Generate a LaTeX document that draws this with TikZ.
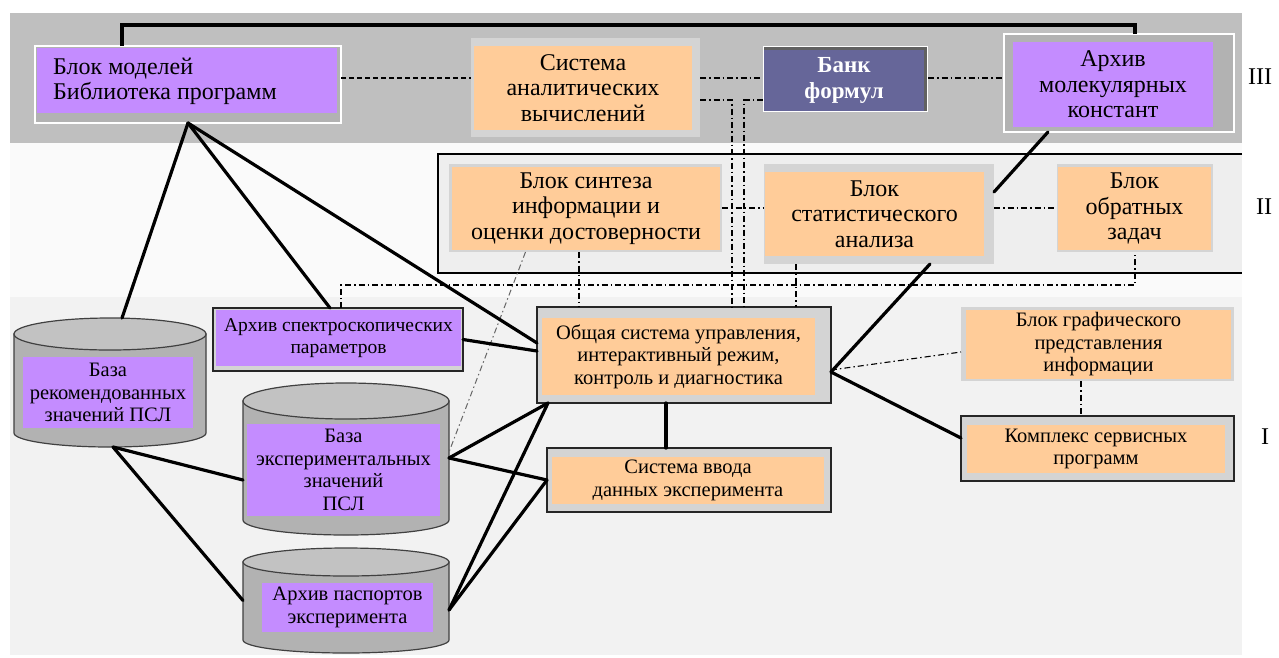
\documentclass[tikz,border=0pt]{standalone}
\usepackage{fontspec}
\setmainfont{Liberation Serif}
\usetikzlibrary{calc}
\definecolor{bandT}{RGB}{191,191,191}
\definecolor{bandB}{RGB}{242,242,242}
\definecolor{lvlII}{RGB}{238,238,238}
\definecolor{purp}{RGB}{196,140,255}
\definecolor{orng}{RGB}{255,204,153}
\definecolor{bankc}{RGB}{102,102,153}
\definecolor{frmD}{RGB}{178,178,178}
\definecolor{frmL}{RGB}{212,212,212}
\definecolor{cylBody}{RGB}{178,178,178}
\definecolor{cylTop}{RGB}{194,194,194}
\newcommand{\drawcyl}[6]{%
  \draw[cylline, fill=cylBody] (#1-#2,#3) -- (#1-#2,#5) arc[start angle=180,end angle=0,x radius=#2,y radius=#6] -- (#1+#2,#3) -- cycle;
  \draw[cylline, fill=cylTop] (#1,#3) ellipse[x radius=#2, y radius=#4];
}
\begin{document}
\begin{tikzpicture}[x=1pt,y=-1pt,
  box/.style={rectangle, inner sep=0pt, outer sep=0pt, anchor=north west},
  fA/.style={font=\fontsize{24}{25.5}\selectfont, align=center},
  fB/.style={font=\fontsize{20.5}{22.5}\selectfont, align=center},
  fBs/.style={font=\fontsize{19.5}{22.5}\selectfont, align=center},
  thk/.style={line width=3.2pt, line cap=round},
  dd/.style={line width=1.1pt, dash pattern=on 6pt off 3pt on 1.5pt off 3pt},
  ddg/.style={line width=1pt, black!60, dash pattern=on 6pt off 3pt on 1.5pt off 3pt},
  dsh/.style={line width=1.1pt, dash pattern=on 5pt off 3pt},
  blk/.style={draw=black!85, line width=1.6pt},
  cylline/.style={draw=black!75, line width=1.2pt},
  lvl/.style={font=\fontsize{24}{26}\selectfont}
]
\useasboundingbox (0,0) rectangle (1279,657);
\fill[white] (0,0) rectangle (1279,657);
% bands
\fill[bandT] (10,13) rectangle (1242,143);
\fill[white!98!black] (10,143) rectangle (1242,297);
\fill[bandB] (10,297) rectangle (1242,655);
\fill[lvlII] (438,154) rectangle (1242,273);
\draw[line width=1.6pt] (1242,154) -- (438,154) -- (438,273) -- (1242,273);

% level III
\node[box, fill=frmD, draw=white, line width=1.2pt, minimum width=306pt, minimum height=77pt] (bmF) at (35,46) {};
\node[box, fill=purp, minimum width=300pt, minimum height=65pt] (bm) at (37,48) {};
\node[fA, anchor=west, align=left, inner sep=0pt] (bmT) at (53,81.5) {Блок моделей\\Библиотека программ};

\node[box, fill=frmL, minimum width=229pt, minimum height=99pt] (sysF) at (471,38) {};
\node[box, fill=orng, minimum width=218pt, minimum height=84pt, fA] (sys) at (474,46) {Система\\аналитических\\вычислений};

\node[box, fill=white, minimum width=165pt, minimum height=66pt] (bank) at (763,45.5) {};
\node[box, fill=black!62, minimum width=163pt, minimum height=64pt] (bankS) at (764,46.5) {};
\node[box, fill=bankc, minimum width=160pt, minimum height=61pt, text=white, font=\bfseries\fontsize{23}{26}\selectfont, align=center] (bankT) at (764,49.5) {Банк\\формул};

\node[box, fill=frmD, draw=white, line width=1.2pt, minimum width=230pt, minimum height=98pt] (archF) at (1004,34) {};
\node[box, fill=purp, minimum width=200pt, minimum height=85pt, fA] (arch) at (1013,42) {Архив\\молекулярных\\констант};

% level II
\node[box, fill=frmL, minimum width=273pt, minimum height=88pt] (synF) at (449,164) {};
\node[box, fill=orng, minimum width=268pt, minimum height=83pt, fA] (syn) at (452,167) {Блок синтеза\\информации и\\оценки достоверности};

\node[box, fill=frmL, minimum width=230pt, minimum height=100pt] (statF) at (764,164) {};
\node[box, fill=orng, minimum width=219pt, minimum height=84pt, fA] (stat) at (765,172) {Блок\\статистического\\анализа};

\node[box, fill=frmL, minimum width=156pt, minimum height=88pt] (invF) at (1057,164) {};
\node[box, fill=orng, minimum width=153pt, minimum height=83pt, fA] (inv) at (1058,167) {Блок\\обратных\\задач};

% level I
\node[box, fill=frmL, blk, minimum width=250pt, minimum height=63pt] (asp) at (213,308) {};
\node[box, fill=purp, minimum width=245pt, minimum height=56pt, fBs] (aspT) at (216,310) {Архив спектроскопических\\параметров};

\node[box, fill=frmL, blk, minimum width=294pt, minimum height=96pt] (ctl) at (537,307) {};
\node[box, fill=orng, minimum width=273pt, minimum height=77pt, fB] (ctlT) at (542,318) {Общая система управления,\\интерактивный режим,\\контроль и диагностика};

\node[box, fill=frmL, blk, minimum width=284pt, minimum height=64pt] (inp) at (547,448) {};
\node[box, fill=orng, minimum width=272pt, minimum height=47pt, fB] (inpT) at (552,457) {Система ввода\\данных эксперимента};

\node[box, fill=frmL, minimum width=273pt, minimum height=74pt] (gfxF) at (961,307) {};
\node[box, fill=orng, minimum width=265pt, minimum height=69pt, fB] (gfx) at (966,310) {Блок графического\\представления\\информации};

\node[box, fill=frmL, blk, minimum width=273pt, minimum height=65pt] (svc) at (961,416) {};
\node[box, fill=orng, minimum width=258pt, minimum height=48pt, fB] (svcT) at (967,425) {Комплекс сервисных\\программ};

% cylinders
\drawcyl{110}{96}{334}{16}{433}{14}
\drawcyl{346}{103}{401}{18}{520}{15}
\drawcyl{346}{103}{562}{14}{640}{13}
\node[box, minimum width=192pt, minimum height=129pt] (cylA) at (14,318) {};
\node[box, minimum width=206pt, minimum height=152pt] (cylB) at (243,383) {};
\node[box, minimum width=206pt, minimum height=105pt] (cylC) at (243,548) {};
\node[box, fill=purp, minimum width=170pt, minimum height=71pt, fB] (cylAT) at (23,357) {База\\рекомендованных\\значений ПСЛ};
\node[box, fill=purp, minimum width=193pt, minimum height=92pt, fB] (cylBT) at (247,424) {База\\экспериментальных\\значений\\ПСЛ};
\node[box, fill=purp, minimum width=171pt, minimum height=49pt, fB] (cylCT) at (262,583) {Архив паспортов\\эксперимента};

% level labels
\node[lvl] (lIII) at (1260,77) {III};
\node[lvl] (lII) at (1264,207) {II};
\node[lvl] (lI) at (1265,437) {I};

% helper coordinates
\coordinate (yA) at (0,78);
\coordinate (yB) at (0,100);
\coordinate (yC) at (0,208);
\coordinate (v579) at (579,0);
\coordinate (v732) at (732,0);
\coordinate (v744) at (744,0);
\coordinate (v796) at (796,0);
\coordinate (h0) at (341,285);
\coordinate (h1) at (1135,285);
\coordinate (topR) at (1135,25);

% thin connectors
\draw[dsh] (bmF.east |- yA) -- (sysF.west |- yA);
\draw[dd] (sysF.east |- yA) -- (bank.west |- yA);
\draw[dd] (bank.east |- yA) -- (archF.west |- yA);
\draw[dd] (sysF.east |- yB) -| (ctl.north -| v732);
\draw[dd] (bank.west |- yB) -| (ctl.north -| v744);
\draw[dd] (synF.east |- yC) -- (statF.west |- yC);
\draw[dd] (statF.east |- yC) -- (invF.west |- yC);
\draw[dd] (asp.north -| h0) -- (h0) -- (h1) -- (invF.south);
\draw[dd] (synF.south -| v579) -- (ctl.north -| v579);
\draw[dd] (statF.south -| v796) -- (ctl.north -| v796);
\draw[ddg] ([xshift=-60pt]synF.south) -- ([yshift=7pt]cylB.east);
\draw[dd] ([yshift=-15pt]ctl.east) -- ([yshift=-8pt]gfxF.west);
\draw[dd] ([xshift=-16.5pt]gfxF.south) -- ([xshift=-16.5pt]gfxF.south |- svc.north);

% thick connectors
\draw[line width=3.2pt, line join=miter] ([xshift=-66pt]bmF.north) |- (topR) -- ([xshift=16pt]archF.north);
\draw[thk] (bmF.south) -- ([xshift=12pt]cylA.north);
\draw[thk] (bmF.south) -- ([xshift=-8pt]asp.north);
\draw[thk] (bmF.south) -- ([yshift=12pt]ctl.west);
\draw[thk] (asp.east) -- ([yshift=4pt]ctl.west);
\draw[thk] ([xshift=11pt]ctl.south west) -- ([yshift=1pt]cylB.east);
\draw[thk] ([xshift=11pt]ctl.south west) -- ([yshift=-9.5pt]cylC.east);
\draw[thk] ([yshift=1pt]cylB.east) -- (inp.west);
\draw[thk] ([yshift=-9.5pt]cylC.east) -- (inp.west);
\draw[thk] ([xshift=-18pt]ctl.south) -- ([xshift=-18pt]ctl.south |- inp.north);
\draw[thk] ([xshift=3pt]cylA.south) -- ([yshift=-21pt]cylB.west);
\draw[thk] ([xshift=3pt]cylA.south) -- (cylC.west);
\draw[thk] ([yshift=-17pt]ctl.east) -- ([xshift=51pt]statF.south);
\draw[thk] ([yshift=-17pt]ctl.east) -- ([yshift=10.5pt]svc.west);
\draw[thk] ([xshift=-71pt]archF.south) -- ([yshift=22pt]statF.east);
\end{tikzpicture}
\end{document}
